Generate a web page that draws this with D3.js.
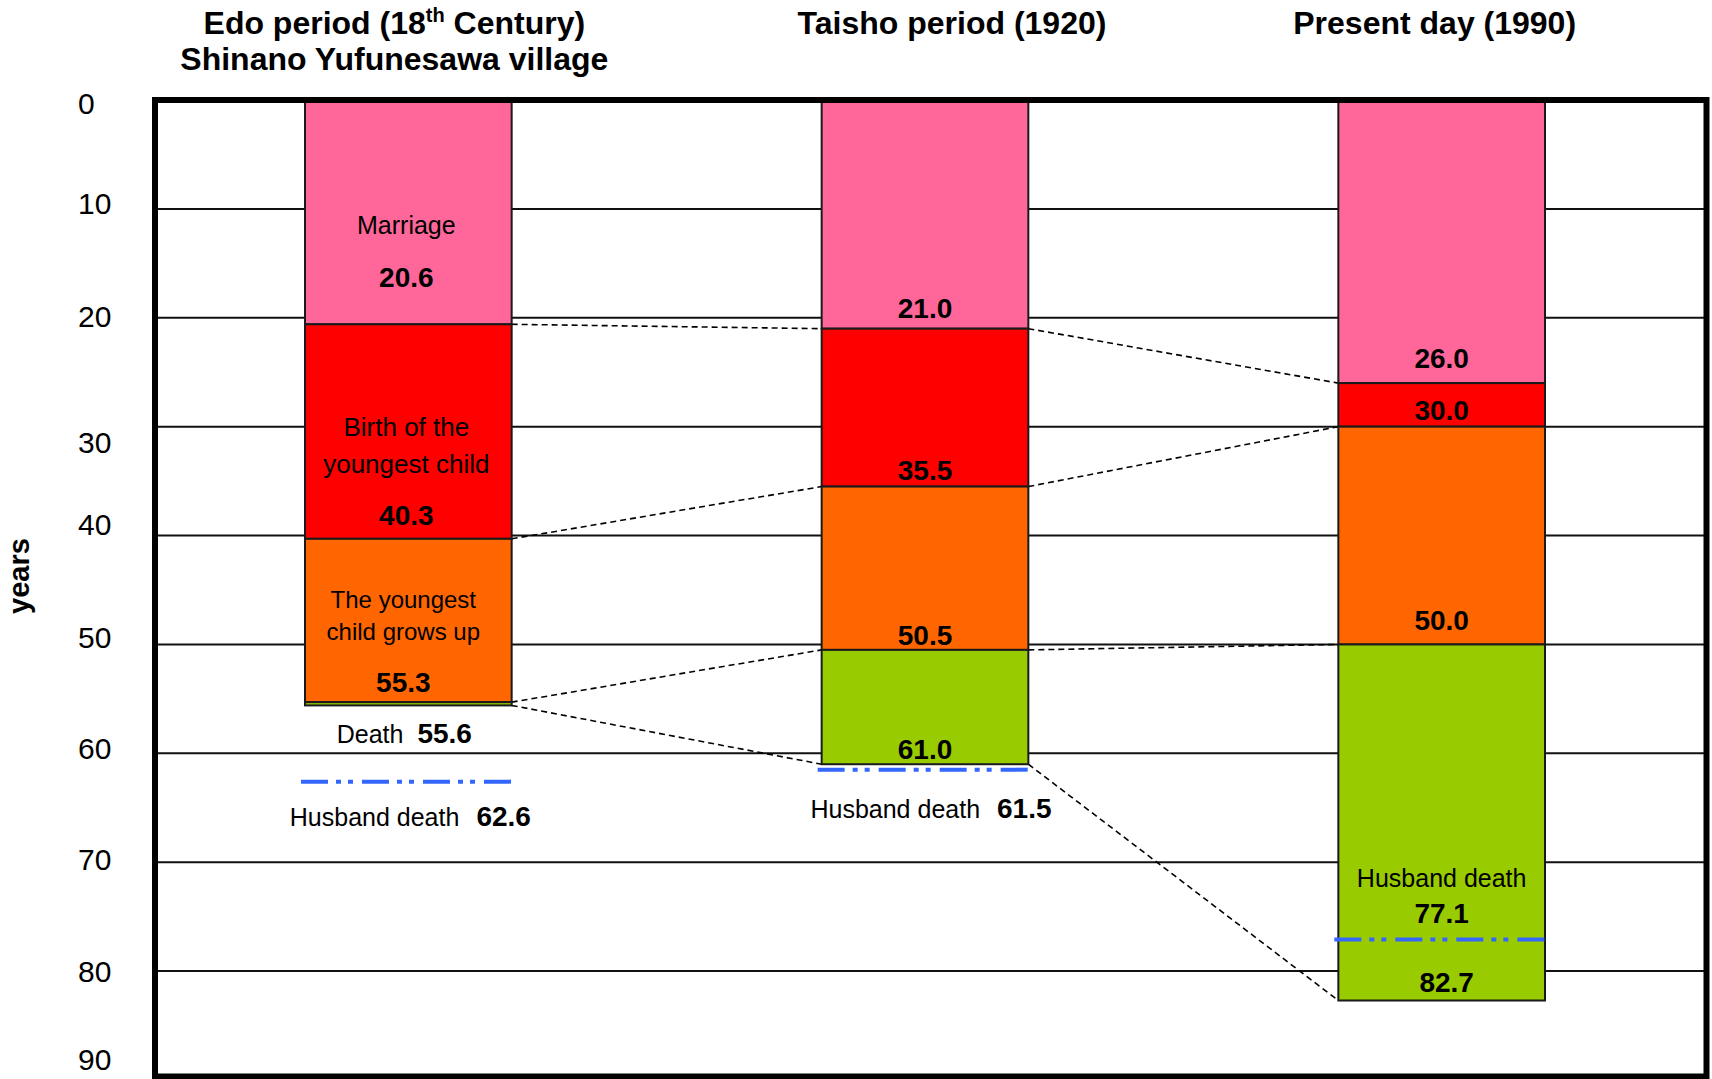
<!DOCTYPE html>
<html>
<head>
<meta charset="utf-8">
<script src="https://cdn.jsdelivr.net/npm/d3@7"></script>
<style>
  html, body { margin: 0; padding: 0; background: #fff; }
  svg { display: block; }
  text { font-family: "Liberation Sans", Arial, sans-serif; fill: #000; }
</style>
</head>
<body>
<svg id="chart" width="1712" height="1079"></svg>
<script>
// ---------- data ----------
const periods = ["Edo", "Taisho", "Present"];
const periodTitles = [
  ["Edo period (18", "th", " Century)"],
  ["Taisho period (1920)"],
  ["Present day (1990)"]
];
const periodSubtitles = ["Shinano Yufunesawa village", "", ""];
const stageNames = ["Marriage", "Birth of the youngest child", "The youngest child grows up", "Death"];
const stageNameLines = [["Marriage"], ["Birth of the", "youngest child"], ["The youngest", "child grows up"], ["Death"]];
const husbandLabel = "Husband death";
const marriageAge = [20.6, 21.0, 26.0];
const lastBirthAge = [40.3, 35.5, 30.0];
const childGrownAge = [55.3, 50.5, 50.0];
const deathAge = [55.6, 61.0, 82.7];
const husbandDeathAge = [62.6, 61.5, 77.1];
const yTicks = [0, 10, 20, 30, 40, 50, 60, 70, 80, 90];
const stageColors = ["#FF6699", "#FF0000", "#FF6600", "#99CC00"];
const yAxisTitle = "years";

// ---------- setup ----------
const svg = d3.select("#chart");
const fmt = d3.format(".1f");
const plotLeft = 155, plotRight = 1706.5, plotTop = 100, plotBottom = 1076.5;
// small vertical nudges of tick labels, as placed in the original
const tickLabelNudge = [4, -4, 0, 17, -10, -6, -4, -2, 1, -20];

const y = d3.scaleLinear().domain([0, 90]).range([plotTop, 1080]);
const x = d3.scaleBand().domain(periods).range([150, 1700]).paddingInner(0.6).paddingOuter(0.3);
const bw = x.bandwidth();
const cx = p => x(p) + bw / 2;

// background
svg.append("rect").attr("x", plotLeft).attr("y", plotTop)
  .attr("width", plotRight - plotLeft).attr("height", plotBottom - plotTop).attr("fill", "#fff");

// gridlines
svg.append("g").selectAll("line").data(yTicks.filter(t => t > 0 && t < 90)).join("line")
  .attr("x1", plotLeft).attr("x2", plotRight)
  .attr("y1", d => y(d)).attr("y2", d => y(d))
  .attr("stroke", "#111").attr("stroke-width", 2);

// y axis labels
const axis = svg.append("g").attr("transform", `translate(${plotLeft},0)`)
  .call(d3.axisLeft(y).tickValues(yTicks).tickSize(0).tickFormat(d3.format("d")));
axis.select(".domain").remove();
axis.selectAll(".tick").attr("transform", (d, i) => `translate(0,${y(d) + tickLabelNudge[i]})`);
axis.selectAll("text")
  .attr("x", 78 - plotLeft).attr("text-anchor", "start")
  .style("font-family", "'Liberation Sans', Arial, sans-serif")
  .style("font-size", "30px").attr("fill", "#000");

// y axis title
svg.append("text").attr("transform", "translate(29,576) rotate(-90)")
  .attr("text-anchor", "middle").style("font-size", "29px").style("font-weight", "bold")
  .text(yAxisTitle);

// dashed connectors between periods
const stageAges = [marriageAge, lastBirthAge, childGrownAge, deathAge];
const connectors = [];
stageAges.forEach(arr => {
  for (let i = 0; i < periods.length - 1; i++) {
    connectors.push({ x1: x(periods[i]) + bw, y1: y(arr[i]), x2: x(periods[i + 1]), y2: y(arr[i + 1]) });
  }
});
svg.append("g").selectAll("line").data(connectors).join("line")
  .attr("x1", d => d.x1).attr("y1", d => d.y1).attr("x2", d => d.x2).attr("y2", d => d.y2)
  .attr("stroke", "#000").attr("stroke-width", 1.6).attr("stroke-dasharray", "6,4");

// stacked bar segments
const segments = [];
periods.forEach((p, i) => {
  const bounds = [0, marriageAge[i], lastBirthAge[i], childGrownAge[i], deathAge[i]];
  for (let k = 0; k < 4; k++) segments.push({ p, k, from: bounds[k], to: bounds[k + 1] });
});
svg.append("g").selectAll("rect").data(segments).join("rect")
  .attr("x", d => x(d.p)).attr("width", bw)
  .attr("y", d => y(d.from)).attr("height", d => y(d.to) - y(d.from))
  .attr("fill", d => stageColors[d.k])
  .attr("stroke", "#1a1a1a").attr("stroke-width", 2);

// text helpers
function txt(xp, yp, str, size, weight) {
  return svg.append("text").attr("x", xp).attr("y", yp).attr("text-anchor", "middle")
    .style("font-size", size + "px").style("font-weight", weight || "normal").text(str);
}
function nameValue(xp, yp, name, value, gap) {
  const t = svg.append("text").attr("x", xp).attr("y", yp).attr("text-anchor", "middle");
  t.append("tspan").style("font-size", "25px").text(name);
  t.append("tspan").attr("dx", gap).style("font-size", "28px").style("font-weight", "bold").text(value);
  return t;
}

// husband death lines
svg.append("g").selectAll("line").data(periods).join("line")
  .attr("x1", (p, i) => x(p) - 4).attr("x2", (p, i) => x(p) + bw + 2)
  .attr("y1", (p, i) => y(husbandDeathAge[i])).attr("y2", (p, i) => y(husbandDeathAge[i]))
  .attr("stroke", "#3366FF").attr("stroke-width", 4)
  .attr("stroke-dasharray", "27,8,5,7,5,9");

// ---------- labels ----------
// Edo
{
  const p = periods[0], c = cx(p), i = 0;
  txt(c - 2, y(marriageAge[i]) - 90, stageNameLines[0][0], 25);
  txt(c - 2, y(marriageAge[i]) - 37, fmt(marriageAge[i]), 28, "bold");
  txt(c - 2, y(lastBirthAge[i]) - 103, stageNameLines[1][0], 26);
  txt(c - 2, y(lastBirthAge[i]) - 66, stageNameLines[1][1], 26);
  txt(c - 2, y(lastBirthAge[i]) - 14, fmt(lastBirthAge[i]), 28, "bold");
  txt(c - 5, y(childGrownAge[i]) - 94, stageNameLines[2][0], 24);
  txt(c - 5, y(childGrownAge[i]) - 62, stageNameLines[2][1], 24);
  txt(c - 5, y(childGrownAge[i]) - 10, fmt(childGrownAge[i]), 28, "bold");
  nameValue(c - 4, y(deathAge[i]) + 38, stageNameLines[3][0], fmt(deathAge[i]), 14);
  nameValue(c + 2, y(husbandDeathAge[i]) + 44, husbandLabel, fmt(husbandDeathAge[i]), 17);
}
// Taisho
{
  const p = periods[1], c = cx(p), i = 1;
  txt(c, y(marriageAge[i]) - 11, fmt(marriageAge[i]), 28, "bold");
  txt(c, y(lastBirthAge[i]) - 7, fmt(lastBirthAge[i]), 28, "bold");
  txt(c, y(childGrownAge[i]) - 5, fmt(childGrownAge[i]), 28, "bold");
  txt(c, y(deathAge[i]) - 5, fmt(deathAge[i]), 28, "bold");
  nameValue(c + 6, y(husbandDeathAge[i]) + 48, husbandLabel, fmt(husbandDeathAge[i]), 17);
}
// Present
{
  const p = periods[2], c = cx(p), i = 2;
  txt(c, y(marriageAge[i]) - 15, fmt(marriageAge[i]), 28, "bold");
  txt(c, y(lastBirthAge[i]) - 7, fmt(lastBirthAge[i]), 28, "bold");
  txt(c, y(childGrownAge[i]) - 14, fmt(childGrownAge[i]), 28, "bold");
  txt(c, y(husbandDeathAge[i]) - 53, husbandLabel, 25);
  txt(c, y(husbandDeathAge[i]) - 17, fmt(husbandDeathAge[i]), 28, "bold");
  txt(c + 5, y(deathAge[i]) - 9, fmt(deathAge[i]), 28, "bold");
}

// ---------- titles ----------
const titleDx = [-14, 27, -7];
periods.forEach((p, i) => {
  const t = svg.append("text").attr("x", cx(p) + titleDx[i]).attr("y", 34)
    .attr("text-anchor", "middle").style("font-size", "32px").style("font-weight", "bold");
  const parts = periodTitles[i];
  if (parts.length === 3) {
    t.append("tspan").text(parts[0]);
    t.append("tspan").attr("dy", -12).style("font-size", "20px").text(parts[1]);
    t.append("tspan").attr("dy", 12).text(parts[2]);
  } else {
    t.text(parts[0]);
  }
  if (periodSubtitles[i]) {
    svg.append("text").attr("x", cx(p) + titleDx[i]).attr("y", 70)
      .attr("text-anchor", "middle").style("font-size", "32px").style("font-weight", "bold")
      .text(periodSubtitles[i]);
  }
});

// plot border
svg.append("rect").attr("x", plotLeft).attr("y", plotTop)
  .attr("width", plotRight - plotLeft).attr("height", plotBottom - plotTop)
  .attr("fill", "none").attr("stroke", "#000").attr("stroke-width", 6);
</script>
</body>
</html>
